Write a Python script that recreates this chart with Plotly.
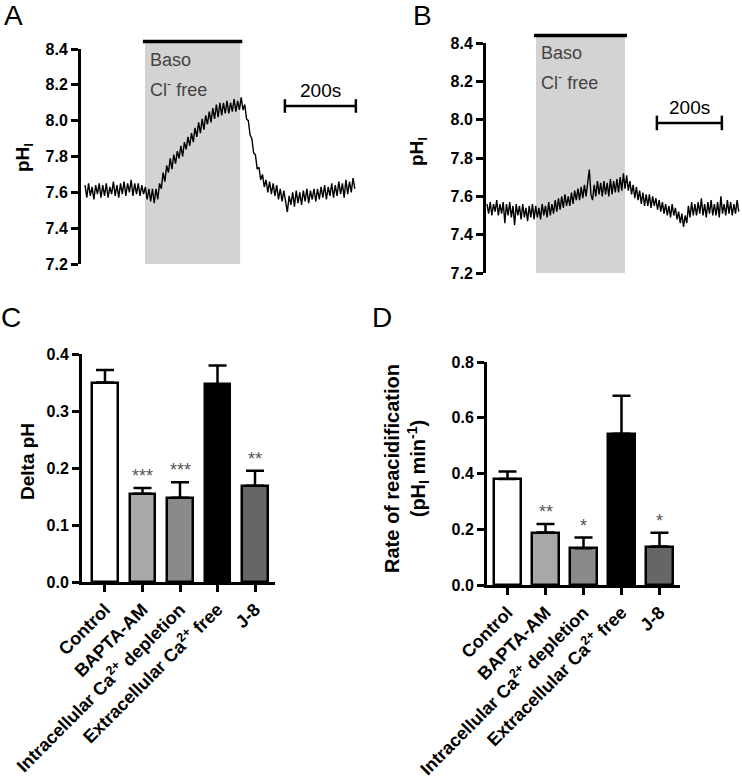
import numpy as np
import plotly.graph_objects as go

W, H = 742, 779

# ---------------- data ----------------
# Panel A: pHi trace, one sample every 5 s
dt_a = 5
ph_a = [7.64, 7.57, 7.65, 7.58, 7.63, 7.56, 7.64, 7.59, 7.65, 7.57,
        7.64, 7.58, 7.65, 7.57, 7.63, 7.59, 7.66, 7.58, 7.64, 7.57,
        7.65, 7.59, 7.66, 7.58, 7.65, 7.60, 7.67, 7.58, 7.65, 7.59,
        7.65, 7.58, 7.64, 7.59, 7.63, 7.56, 7.62, 7.55, 7.62, 7.54,
        7.62, 7.56, 7.65, 7.62, 7.71, 7.66, 7.75, 7.71, 7.79, 7.73,
        7.81, 7.76, 7.83, 7.79, 7.86, 7.80, 7.88, 7.84, 7.91, 7.86,
        7.93, 7.88, 7.96, 7.91, 7.99, 7.93, 8.01, 7.95, 8.03, 7.98,
        8.05, 7.99, 8.07, 8.01, 8.09, 8.02, 8.10, 8.03, 8.10, 8.04,
        8.11, 8.04, 8.10, 8.05, 8.12, 8.05, 8.11, 8.06, 8.13, 8.06,
        8.09, 8.01, 8.00, 7.92, 7.90, 7.82, 7.81, 7.73, 7.74, 7.67,
        7.70, 7.63, 7.67, 7.60, 7.66, 7.59, 7.65, 7.58, 7.64, 7.56,
        7.62, 7.55, 7.61, 7.54, 7.49, 7.58, 7.53, 7.60, 7.52, 7.61,
        7.54, 7.60, 7.53, 7.61, 7.55, 7.62, 7.54, 7.61, 7.56, 7.62,
        7.55, 7.62, 7.56, 7.63, 7.57, 7.64, 7.56, 7.63, 7.58, 7.65,
        7.57, 7.64, 7.58, 7.66, 7.59, 7.65, 7.57, 7.67, 7.59, 7.66,
        7.60, 7.68, 7.62]
# Panel B: pHi trace, one sample every 5 s
dt_b = 5
ph_b = [7.56, 7.51, 7.57, 7.50, 7.56, 7.52, 7.58, 7.50, 7.56, 7.51,
        7.57, 7.46, 7.56, 7.50, 7.57, 7.49, 7.55, 7.45, 7.56, 7.50,
        7.55, 7.48, 7.56, 7.49, 7.54, 7.47, 7.55, 7.49, 7.56, 7.48,
        7.55, 7.49, 7.54, 7.48, 7.56, 7.50, 7.55, 7.49, 7.57, 7.50,
        7.56, 7.51, 7.58, 7.52, 7.59, 7.53, 7.60, 7.54, 7.61, 7.55,
        7.60, 7.55, 7.62, 7.56, 7.63, 7.58, 7.64, 7.58, 7.65, 7.59,
        7.66, 7.60, 7.67, 7.74, 7.61, 7.58, 7.66, 7.60, 7.68, 7.61,
        7.67, 7.60, 7.68, 7.61, 7.67, 7.60, 7.69, 7.61, 7.68, 7.62,
        7.69, 7.62, 7.70, 7.63, 7.72, 7.64, 7.71, 7.63, 7.68, 7.61,
        7.66, 7.59, 7.65, 7.58, 7.63, 7.56, 7.62, 7.55, 7.61, 7.55,
        7.61, 7.54, 7.60, 7.55, 7.59, 7.53, 7.58, 7.52, 7.57, 7.51,
        7.56, 7.50, 7.55, 7.49, 7.56, 7.50, 7.54, 7.48, 7.52, 7.46,
        7.51, 7.44, 7.50, 7.46, 7.55, 7.49, 7.57, 7.50, 7.56, 7.50,
        7.57, 7.51, 7.59, 7.50, 7.56, 7.49, 7.57, 7.51, 7.58, 7.50,
        7.56, 7.50, 7.57, 7.49, 7.60, 7.51, 7.56, 7.50, 7.58, 7.51,
        7.57, 7.50, 7.56, 7.51, 7.58, 7.52]

shade_a = [169, 437]     # s, Baso Cl- free period
scale_a = [563, 763]     # 200 s scale bar
shade_b = [151, 425]
scale_b = [523, 723]
ph_ticks = [7.2, 7.4, 7.6, 7.8, 8.0, 8.2, 8.4]

categories = ["Control", "BAPTA-AM", "Intracellular Ca<sup>2+</sup> depletion",
              "Extracellular Ca<sup>2+</sup> free", "J-8"]
delta_ph = [0.350, 0.155, 0.148, 0.347, 0.169]
delta_ph_err = [0.022, 0.010, 0.027, 0.033, 0.026]
rate = [0.380, 0.188, 0.132, 0.543, 0.138]
rate_err = [0.027, 0.031, 0.038, 0.136, 0.049]
stars_c = ["", "***", "***", "", "**"]
stars_d = ["", "**", "*", "", "*"]
bar_colors = ["#ffffff", "#a8a8a8", "#8a8a8a", "#000000", "#666666"]
c_ticks = [0.0, 0.1, 0.2, 0.3, 0.4]
d_ticks = [0.0, 0.2, 0.4, 0.6, 0.8]

# ---------------- helpers ----------------
FONT = "Liberation Sans, Arial, sans-serif"


def px(x):
    return x / W


def py(y):
    return 1 - y / H


t_a = np.arange(len(ph_a)) * dt_a
t_b = np.arange(len(ph_b)) * dt_b

fig = go.Figure()

# traces
fig.add_trace(go.Scatter(x=t_a, y=ph_a, mode="lines", line=dict(color="black", width=1.4),
                         xaxis="x", yaxis="y", showlegend=False))
fig.add_trace(go.Scatter(x=t_b, y=ph_b, mode="lines", line=dict(color="black", width=1.4),
                         xaxis="x2", yaxis="y2", showlegend=False))

xidx = list(range(len(categories)))
fig.add_trace(go.Bar(x=xidx, y=delta_ph, width=0.67,
                     marker=dict(color=bar_colors, line=dict(color="black", width=2.5)),
                     error_y=dict(type="data", array=delta_ph_err, arrayminus=[0] * 5,
                                  symmetric=False, color="black", thickness=2.5, width=9),
                     xaxis="x3", yaxis="y3", showlegend=False))
fig.add_trace(go.Bar(x=xidx, y=rate, width=0.7,
                     marker=dict(color=bar_colors, line=dict(color="black", width=2.5)),
                     error_y=dict(type="data", array=rate_err, arrayminus=[0] * 5,
                                  symmetric=False, color="black", thickness=2.5, width=9),
                     xaxis="x4", yaxis="y4", showlegend=False))

yax_common = dict(showline=True, linecolor="black", linewidth=3, ticks="outside",
                  ticklen=7, tickwidth=2.5, tickcolor="black", showgrid=False,
                  zeroline=False, tickformat=".1f", automargin=False,
                  tickfont=dict(family=FONT, size=16, color="black", weight="bold"))
xbar_common = dict(showline=True, linecolor="black", linewidth=3, ticks="outside",
                   ticklen=7, tickwidth=2.5, tickcolor="black", showgrid=False,
                   zeroline=False, tickangle=-45, tickvals=xidx, ticktext=categories,
                   automargin=False,
                   tickfont=dict(family=FONT, size=18, color="black", weight="bold"))

fig.update_layout(
    template="none",
    xaxis=dict(domain=[px(81), px(358)], range=[-11.3, 769], visible=False, automargin=False),
    yaxis=dict(domain=[py(264), py(49)], range=[7.2, 8.4], tickvals=ph_ticks,
               anchor="x", **yax_common),
    xaxis2=dict(domain=[px(486), px(742)], range=[-3, 785], visible=False, anchor="y2",
                automargin=False),
    yaxis2=dict(domain=[py(273), py(43)], range=[7.2, 8.4], tickvals=ph_ticks,
                anchor="x2", **yax_common),
    xaxis3=dict(domain=[px(82), px(275)], range=[-0.613, 4.533], anchor="y3", **xbar_common),
    yaxis3=dict(domain=[py(582), py(354)], range=[0, 0.4], tickvals=c_ticks,
                anchor="x3", **yax_common),
    xaxis4=dict(domain=[px(487), px(680)], range=[-0.54, 4.54], anchor="y4", **xbar_common),
    yaxis4=dict(domain=[py(585), py(362)], range=[0, 0.8], tickvals=d_ticks,
                anchor="x4", **yax_common),
)

shapes = []
annotations = []


def trace_panel(xr, yr, shade, scale, dom_h, bar_y, baso_y, cl_y, lbl_y):
    top = 1 + 6.5 / dom_h
    shapes.append(dict(type="rect", xref=xr, yref=yr + " domain", x0=shade[0], x1=shade[1],
                       y0=0, y1=top, fillcolor="#d3d3d3", line=dict(width=0), layer="below"))
    shapes.append(dict(type="line", xref=xr, yref=yr + " domain", x0=shade[0] - 6, x1=shade[1] + 6,
                       y0=1 + 7.5 / dom_h, y1=1 + 7.5 / dom_h, line=dict(color="black", width=3.5)))
    # scale bar
    shapes.append(dict(type="line", xref=xr, yref=yr, x0=scale[0], x1=scale[1], y0=bar_y, y1=bar_y,
                       line=dict(color="black", width=2.5)))
    for sx in scale:
        shapes.append(dict(type="line", xref=xr, yref=yr, x0=sx, x1=sx, y0=bar_y - 0.038,
                           y1=bar_y + 0.038, line=dict(color="black", width=2.5)))
    annotations.append(dict(xref=xr, yref=yr, x=(scale[0] + scale[1]) / 2, y=lbl_y, text="200s",
                            showarrow=False, font=dict(family=FONT, size=19, color="black"),
                            xanchor="center", yanchor="middle"))
    annotations.append(dict(xref=xr, yref=yr, x=shade[0], y=baso_y, text="Baso", xshift=3,
                            showarrow=False, font=dict(family=FONT, size=18, color="#444444"),
                            xanchor="left", yanchor="middle"))
    annotations.append(dict(xref=xr, yref=yr, x=shade[0], y=cl_y, text="Cl<sup>-</sup> free", xshift=3,
                            showarrow=False, font=dict(family=FONT, size=18, color="#444444"),
                            xanchor="left", yanchor="middle"))


trace_panel("x", "y", shade_a, scale_a, 215, 8.082, 8.339, 8.182, 8.17)
trace_panel("x2", "y2", shade_b, scale_b, 230, 7.983, 8.348, 8.197, 8.066)

# significance stars
for xa, ya, vals, errs, stars in (("x3", "y3", delta_ph, delta_ph_err, stars_c),
                                  ("x4", "y4", rate, rate_err, stars_d)):
    for i, s in enumerate(stars):
        if s:
            annotations.append(dict(xref=xa, yref=ya, x=i, y=vals[i] + errs[i], text=s,
                                    showarrow=False, yanchor="bottom", xanchor="center",
                                    font=dict(family=FONT, size=18, color="#555555")))

# axis titles
title_font = dict(family=FONT, size=19, color="black", weight="bold")
annotations.append(dict(xref="paper", yref="paper", x=px(24), y=py(158), text="pH<sub>I</sub>",
                        textangle=-90, showarrow=False, font=title_font,
                        xanchor="center", yanchor="middle"))
annotations.append(dict(xref="paper", yref="paper", x=px(418), y=py(152), text="pH<sub>I</sub>",
                        textangle=-90, showarrow=False, font=title_font,
                        xanchor="center", yanchor="middle"))
annotations.append(dict(xref="paper", yref="paper", x=px(27), y=py(462), text="Delta pH",
                        textangle=-90, showarrow=False, font=title_font,
                        xanchor="center", yanchor="middle"))
annotations.append(dict(xref="paper", yref="paper", x=px(406), y=py(469),
                        text="Rate of reacidification<br>(pH<sub>I</sub> min<sup>-1</sup>)",
                        textangle=-90, showarrow=False,
                        font=dict(family=FONT, size=20, color="black", weight="bold"),
                        xanchor="center", yanchor="middle"))

# panel letters
for letter, lx, ly in (("A", 13, 15), ("B", 422, 15), ("C", 11, 317), ("D", 382, 317)):
    annotations.append(dict(xref="paper", yref="paper", x=px(lx), y=py(ly), text=letter,
                            showarrow=False, font=dict(family=FONT, size=28, color="black"),
                            xanchor="center", yanchor="middle"))

fig.update_layout(width=W, height=H, margin=dict(l=0, r=0, t=0, b=0, autoexpand=False),
                  paper_bgcolor="white", plot_bgcolor="white",
                  shapes=shapes, annotations=annotations, bargap=0)

# remove the page's default 8px body margin so the figure sits at the window origin
fig.write_html("out.html", config={"displayModeBar": False},
               post_script="document.body.style.margin='0';")
